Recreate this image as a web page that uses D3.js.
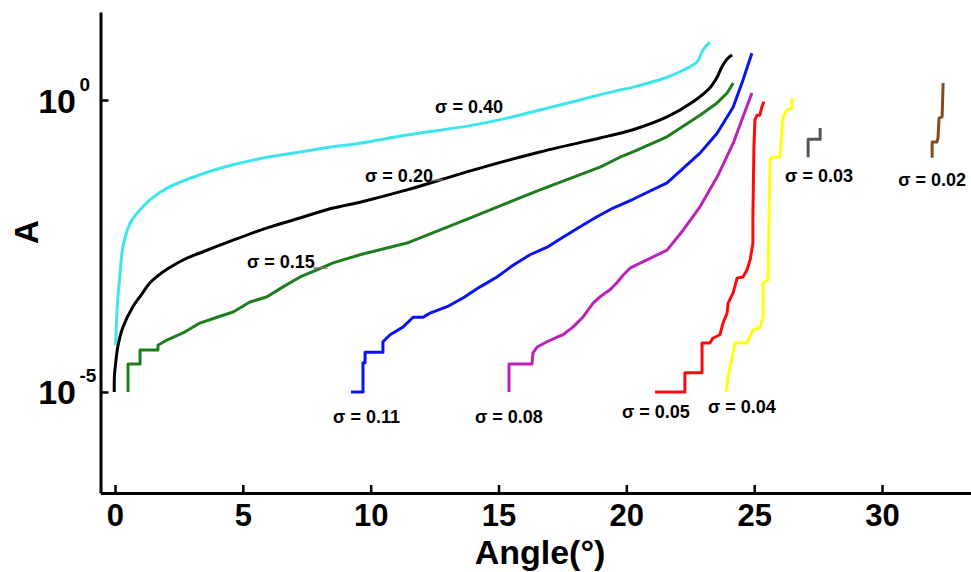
<!DOCTYPE html>
<html>
<head>
<meta charset="utf-8">
<script src="https://cdn.jsdelivr.net/npm/d3@7"></script>
<style>
  html, body { margin: 0; padding: 0; background: #fff; }
  svg { display: block; }
  text { font-family: "Liberation Sans", Arial, sans-serif; font-weight: bold; fill: #000; }
</style>
</head>
<body>
<svg id="chart" width="971" height="572"></svg>
<script>
// ---- data: [angle (deg), log10(A)] ----
const sigma040 = [[0.03,-4.20],[0.08,-3.60],[0.20,-2.96],[0.31,-2.52],[0.59,-2.11],[0.98,-1.88],[1.37,-1.71],[2.03,-1.51],[3.32,-1.28],[4.62,-1.11],[5.95,-0.98],[7.24,-0.89],[8.53,-0.80],[9.58,-0.74],[11.42,-0.60],[14.00,-0.43],[15.33,-0.31],[16.62,-0.17],[17.91,-0.03],[18.97,0.09],[19.75,0.17],[20.26,0.22],[21.59,0.39],[22.22,0.51],[22.76,0.65],[23.00,0.86],[23.27,0.99]];
const sigma020 = [[-0.03,-5.00],[-0.02,-4.71],[0.03,-4.49],[0.12,-4.20],[0.31,-3.89],[0.70,-3.54],[1.02,-3.34],[1.37,-3.13],[1.68,-3.01],[2.03,-2.90],[2.66,-2.74],[3.32,-2.62],[4.62,-2.40],[5.95,-2.19],[7.24,-2.02],[8.53,-1.85],[9.58,-1.75],[11.42,-1.54],[14.00,-1.20],[16.62,-0.89],[18.97,-0.65],[19.75,-0.57],[20.26,-0.51],[21.59,-0.29],[22.61,-0.03],[23.27,0.21],[23.55,0.39],[23.74,0.57],[23.98,0.72],[24.14,0.77]];
const sigma015 = [[0.51,-5.00],[0.51,-4.52],[0.98,-4.52],[0.98,-4.28],[1.68,-4.28],[1.68,-4.20],[2.03,-4.11],[2.66,-3.99],[3.32,-3.82],[3.99,-3.72],[4.62,-3.63],[5.28,-3.46],[5.95,-3.37],[6.57,-3.20],[7.24,-3.03],[7.90,-2.91],[8.53,-2.79],[9.58,-2.65],[11.42,-2.45],[14.00,-2.00],[16.62,-1.54],[18.97,-1.15],[19.75,-0.98],[20.26,-0.89],[21.59,-0.63],[22.88,-0.26],[23.55,-0.05],[23.94,0.12],[24.18,0.29]];
const sigma011 = [[9.23,-5.00],[9.70,-5.00],[9.70,-4.50],[9.78,-4.50],[9.78,-4.32],[10.48,-4.32],[10.48,-4.14],[10.76,-4.02],[11.26,-3.89],[11.66,-3.72],[12.05,-3.72],[12.32,-3.65],[12.99,-3.54],[13.61,-3.39],[14.28,-3.20],[14.94,-3.03],[15.57,-2.83],[16.23,-2.65],[16.90,-2.52],[17.52,-2.35],[18.19,-2.17],[18.85,-2.00],[19.48,-1.85],[20.26,-1.70],[21.59,-1.42],[22.88,-0.91],[23.55,-0.57],[24.18,-0.12],[24.56,0.34],[24.91,0.80]];
const sigma008 = [[15.41,-5.00],[15.41,-4.52],[16.31,-4.52],[16.35,-4.33],[16.51,-4.23],[16.90,-4.14],[17.29,-4.06],[17.52,-4.02],[17.91,-3.89],[18.30,-3.72],[18.70,-3.48],[18.97,-3.37],[19.36,-3.25],[19.63,-3.13],[19.87,-3.00],[20.14,-2.88],[21.59,-2.57],[22.22,-2.23],[22.88,-1.83],[23.55,-1.32],[24.18,-0.74],[24.56,-0.29],[24.91,0.12]];
const sigma005 = [[21.12,-5.00],[22.29,-5.00],[22.29,-4.67],[22.96,-4.67],[22.96,-4.16],[23.27,-4.16],[23.38,-4.08],[23.66,-4.02],[23.78,-3.82],[23.94,-3.65],[23.98,-3.48],[24.18,-3.30],[24.33,-3.05],[24.56,-3.03],[24.72,-2.91],[24.84,-2.74],[24.95,-2.45],[24.95,-2.00],[24.99,-0.80],[25.03,-0.34],[25.11,-0.26],[25.22,-0.26],[25.30,-0.12],[25.38,-0.03]];
const sigma004 = [[23.90,-5.00],[23.98,-4.74],[24.25,-4.16],[24.72,-4.16],[24.95,-3.94],[25.23,-3.89],[25.35,-3.72],[25.35,-3.13],[25.54,-3.08],[25.62,-1.03],[25.70,-0.98],[26.01,-0.98],[26.09,-0.48],[26.13,-0.29],[26.28,-0.17],[26.48,-0.14],[26.48,0.03]];
const sigma003 = [[27.11,-0.98],[27.11,-0.67],[27.58,-0.67],[27.58,-0.48]];
const sigma002 = [[31.96,-0.99],[31.96,-0.72],[32.15,-0.72],[32.19,-0.65],[32.23,-0.31],[32.35,-0.29],[32.39,0.29]];

const seriesNames  = ["σ = 0.40","σ = 0.20","σ = 0.15","σ = 0.11","σ = 0.08","σ = 0.05","σ = 0.04","σ = 0.03","σ = 0.02"];
const seriesData   = [sigma040, sigma020, sigma015, sigma011, sigma008, sigma005, sigma004, sigma003, sigma002];
const seriesColors = ["#3ee4ee","#000000","#1e7d1e","#0a14f0","#bb22bb","#ff0a0a","#ffff10","#555555","#8b4a1c"];
const seriesSmooth = [true, true, false, false, false, false, false, false, false];
// label anchors in data coordinates [angle, log10(A)]
const labelAnchors = [[12.52,-0.22],[9.78,-1.40],[5.16,-2.88],[8.53,-5.53],[14.08,-5.53],[19.83,-5.45],[23.19,-5.36],[26.21,-1.40],[30.63,-1.47]];

const xTicks = [0,5,10,15,20,25,30];
const yTicks = [0,-5]; // exponents
const xTitle = "Angle(°)";
const yTitle = "A";

// ---- layout ----
const svg = d3.select("#chart");
const x = d3.scaleLinear().domain([-0.567, 33.48]).range([100.5, 971]);
const y = d3.scaleLog().domain([Math.pow(10,-6.73), Math.pow(10,1.507)]).range([493, 12]);
const pt = d => [x(d[0]), y(Math.pow(10, d[1]))];

// curves
const lineLinear = d3.line().x(d => pt(d)[0]).y(d => pt(d)[1]);
const lineSmooth = d3.line().x(d => pt(d)[0]).y(d => pt(d)[1]).curve(d3.curveCatmullRom.alpha(0.5));
svg.append("g").selectAll("path")
  .data(seriesData)
  .join("path")
  .attr("d", (d,i) => seriesSmooth[i] ? lineSmooth(d) : lineLinear(d))
  .attr("fill", "none")
  .attr("stroke", (d,i) => seriesColors[i])
  .attr("stroke-width", 3)
  .attr("stroke-linejoin", "round");

// small leader lines for two labels
const leaders = [[[12.33,-1.384],[12.83,-1.364]],[[7.76,-2.877],[8.31,-2.877]]];
svg.append("g").selectAll("path").data(leaders).join("path")
  .attr("d", lineLinear)
  .attr("stroke", "#777").attr("stroke-width", 1.5).attr("fill","none");

// series labels
svg.append("g").selectAll("text")
  .data(seriesNames)
  .join("text")
  .attr("x", (d,i) => pt(labelAnchors[i])[0])
  .attr("y", (d,i) => pt(labelAnchors[i])[1])
  .attr("font-size", 18)
  .text(d => d);

// x axis
const xAxis = d3.axisBottom(x).tickValues(xTicks).tickSizeInner(-8).tickSizeOuter(0).tickPadding(11).tickFormat(d3.format("d"));
const gx = svg.append("g").attr("transform", "translate(0,493)").call(xAxis);
gx.select(".domain").attr("stroke", "#000").attr("stroke-width", 3);
gx.selectAll(".tick line").attr("stroke", "#000").attr("stroke-width", 2.5);
gx.selectAll(".tick text").attr("font-size", 31).attr("font-family", "'Liberation Sans', Arial, sans-serif").attr("font-weight", "bold").attr("fill", "#000");

// y axis
const yAxis = d3.axisLeft(y).tickValues(yTicks.map(e => Math.pow(10,e))).tickSizeInner(-8).tickSizeOuter(0).tickFormat("");
const gy = svg.append("g").attr("transform", "translate(100.5,0)").call(yAxis);
gy.select(".domain").attr("stroke", "#000").attr("stroke-width", 3);
gy.selectAll(".tick line").attr("stroke", "#000").attr("stroke-width", 2.5);
gy.selectAll(".tick").each(function(d) {
  const g = d3.select(this);
  g.append("text").attr("x", -24.5).attr("y", 12).attr("text-anchor", "end").attr("font-size", 34).text("10");
  g.append("text").attr("x", -21).attr("y", -10).attr("text-anchor", "start").attr("font-size", 19)
    .text(String(Math.round(Math.log10(d))));
});

// axis titles
svg.append("text").attr("x", 540).attr("y", 564).attr("text-anchor", "middle").attr("font-size", 34).text(xTitle);
svg.append("text").attr("transform", "translate(38,232) rotate(-90)").attr("text-anchor", "middle").attr("font-size", 33).text(yTitle);
</script>
</body>
</html>
